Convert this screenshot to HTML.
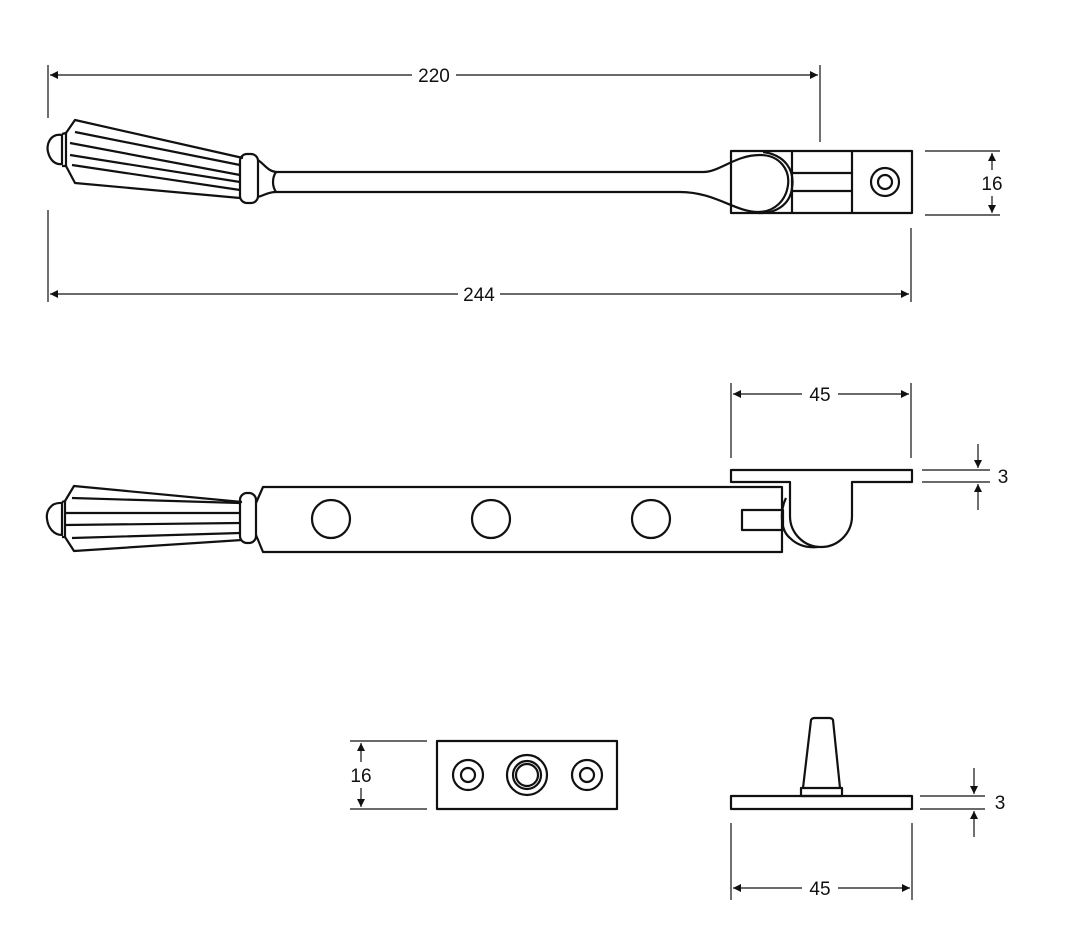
<!DOCTYPE html>
<html><head><meta charset="utf-8"><style>
html,body{margin:0;padding:0;background:#fff;}
svg{display:block;}
text{font-family:"Liberation Sans",sans-serif;font-size:19px;fill:#111;}
</style></head><body>
<svg width="1080" height="939" viewBox="0 0 1080 939" xmlns="http://www.w3.org/2000/svg">
<defs>
<marker id="a" viewBox="0 0 10 10" refX="10" refY="5" markerWidth="12" markerHeight="8" markerUnits="userSpaceOnUse" orient="auto-start-reverse"><path d="M0,0 L10,5 L0,10 z" fill="#111"/></marker>
</defs>
<g stroke="#111" fill="none" stroke-width="1.2">
<line x1="48" y1="65" x2="48" y2="118"/><line x1="48" y1="210" x2="48" y2="302"/>
<line x1="820" y1="65" x2="820" y2="142"/>
<line x1="911" y1="228" x2="911" y2="302"/>
<line x1="50" y1="75" x2="412" y2="75" marker-start="url(#a)"/><line x1="456" y1="75" x2="818" y2="75" marker-end="url(#a)"/>
<line x1="50" y1="294" x2="458" y2="294" marker-start="url(#a)"/><line x1="500" y1="294" x2="909" y2="294" marker-end="url(#a)"/>
<line x1="925" y1="151" x2="1000" y2="151"/><line x1="925" y1="215" x2="1000" y2="215"/>
<line x1="992" y1="153" x2="992" y2="170" marker-start="url(#a)"/><line x1="992" y1="196" x2="992" y2="213" marker-end="url(#a)"/>
<line x1="731" y1="383" x2="731" y2="458"/><line x1="911" y1="383" x2="911" y2="458"/>
<line x1="733" y1="394" x2="802" y2="394" marker-start="url(#a)"/><line x1="838" y1="394" x2="909" y2="394" marker-end="url(#a)"/>
<line x1="922" y1="470" x2="990" y2="470"/><line x1="922" y1="482" x2="990" y2="482"/>
<line x1="978" y1="444" x2="978" y2="468" marker-end="url(#a)"/><line x1="978" y1="510" x2="978" y2="484" marker-end="url(#a)"/>
<line x1="350" y1="741" x2="427" y2="741"/><line x1="350" y1="809" x2="427" y2="809"/>
<line x1="361" y1="743" x2="361" y2="762" marker-start="url(#a)"/><line x1="361" y1="788" x2="361" y2="807" marker-end="url(#a)"/>
<line x1="920" y1="796" x2="985" y2="796"/><line x1="920" y1="809" x2="985" y2="809"/>
<line x1="974" y1="768" x2="974" y2="794" marker-end="url(#a)"/><line x1="974" y1="837" x2="974" y2="811" marker-end="url(#a)"/>
<line x1="731" y1="823" x2="731" y2="900"/><line x1="912" y1="823" x2="912" y2="900"/>
<line x1="733" y1="888" x2="802" y2="888" marker-start="url(#a)"/><line x1="838" y1="888" x2="910" y2="888" marker-end="url(#a)"/>
</g>
<g fill="#111">
<text x="434" y="82" text-anchor="middle">220</text>
<text x="479" y="301" text-anchor="middle">244</text>
<text x="992" y="190" text-anchor="middle">16</text>
<text x="820" y="401" text-anchor="middle">45</text>
<text x="1003" y="483" text-anchor="middle">3</text>
<text x="361" y="782" text-anchor="middle">16</text>
<text x="1000" y="809" text-anchor="middle">3</text>
<text x="820" y="895" text-anchor="middle">45</text>
</g>
<g stroke="#111" fill="none" stroke-width="2.2" stroke-linejoin="round">
<path d="M62,135 C50,133 46,145 48,152 C50,160 55,165 62,164 Z"/>
<path d="M62,134 L66,133 L66,166 L62,166"/>
<path d="M66,133 L75,120 L243,158 M66,166 L75,183 L240,198"/>
<path d="M75,132 L240,165 M70,143 L240,175 M70,155 L240,182 M72,165 L240,190"/>
<rect x="240" y="154" width="18" height="49" rx="7"/>
<path d="M258,160 C265,165 268,171 276,172 M258,197 C265,195 268,192 276,192 M276,172 C272,178 272,186 276,192"/>
<path d="M276,172 L703,172 C720,172 735,155 760,155 C780,155 790,170 788,185 C786,200 775,212 758,212 C735,212 715,192 680,192 L276,192"/>
<path d="M763,152 C785,155 795,170 792,188 C790,205 775,214 758,213"/>
<rect x="731" y="151" width="181" height="62"/>
<line x1="792" y1="151" x2="792" y2="213"/><line x1="852" y1="151" x2="852" y2="213"/>
<line x1="792" y1="173" x2="852" y2="173"/><line x1="792" y1="191" x2="852" y2="191"/>
<circle cx="885" cy="182" r="14"/><circle cx="885" cy="182" r="7"/>
<path d="M62,503 C50,502 46,512 47,519 C48,528 54,535 62,535 Z"/>
<path d="M62,502 L65,501 L65,537 L62,537"/>
<path d="M65,501 L74,486 L242,502 M65,537 L74,551 L242,540"/>
<path d="M72,498 L240,503 M66,513 L240,513 M66,525 L240,523 M72,538 L240,533"/>
<rect x="240" y="493" width="16" height="50" rx="7"/>
<path d="M256,503 L263,487 L782,487 L782,552 L263,552 L256,535"/>
<circle cx="331" cy="519" r="19"/><circle cx="491" cy="519" r="19"/><circle cx="651" cy="519" r="19"/>
<rect x="742" y="510" width="41" height="20"/>
<path d="M731,470 L912,470 L912,482 L852,482 L852,516 A31,31 0 0 1 790,516 L790,482 L731,482 Z"/>
<path d="M786,498 C780,510 780,530 790,538 C798,546 808,548 818,547"/>
<rect x="437" y="741" width="180" height="68"/>
<circle cx="468" cy="775" r="15"/><circle cx="468" cy="775" r="7"/>
<circle cx="527" cy="775" r="20"/><circle cx="527" cy="775" r="14"/><circle cx="527" cy="775" r="11"/>
<circle cx="587" cy="775" r="15"/><circle cx="587" cy="775" r="7"/>
<rect x="731" y="796" width="181" height="13"/>
<rect x="801" y="788" width="41" height="8"/>
<path d="M803,788 L811,720 Q812,718 815,718 L829,718 Q832,718 833,720 L840,788"/>
</g>
</svg>
</body></html>
